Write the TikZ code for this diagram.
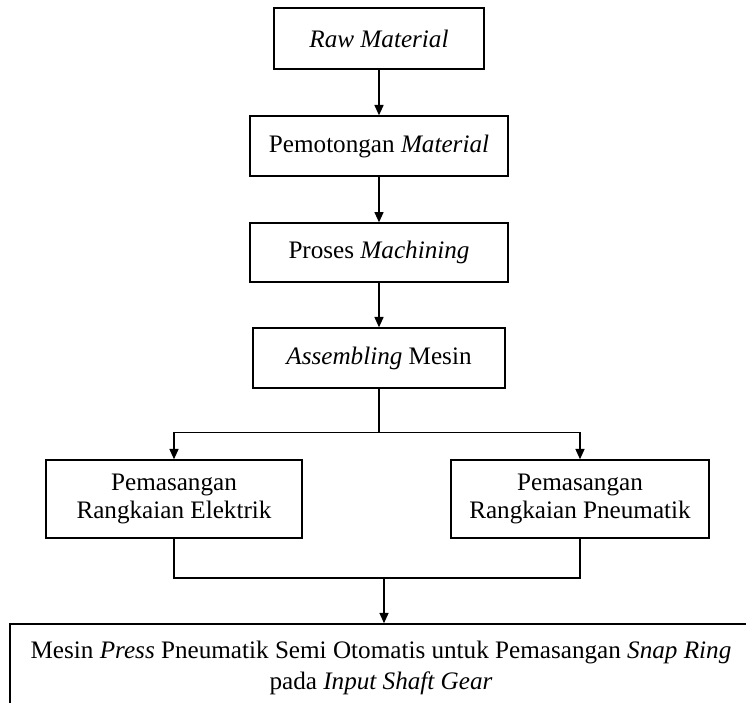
\documentclass[tikz,border=0pt]{standalone}
\usepackage{fontspec}
\setmainfont{Liberation Serif}
\usetikzlibrary{positioning}
\usetikzlibrary{calc}
\usetikzlibrary{arrows.meta}

\begin{document}
\begin{tikzpicture}[x=0.465pt, y=-0.465pt, line width=0.65pt,
        kotak/.style={draw, align=center, inner sep=0pt,
            font=\fontsize{11.7}{12.6}\selectfont},
        panah/.style={-{Triangle[length=4.8pt,width=4.2pt]}}]
        % Batas gambar
        \useasboundingbox (0,0) rectangle (746,702);
        \clip (0,0) rectangle (746,702);

        % Kotak proses utama
        \node[kotak, minimum width=97.7pt, minimum height=28.4pt] (raw) at (379,38.5) {\textit{Raw Material}};
        \node[kotak, minimum width=120pt, minimum height=27.9pt] (potong) at (379,146) {Pemotongan \textit{Material}};
        \node[kotak, minimum width=120pt, minimum height=27.4pt] (machining) at (379,252.5) {Proses \textit{Machining}};
        \node[kotak, minimum width=117.2pt, minimum height=27.9pt] (rakit) at (379,358) {\textit{Assembling} Mesin};

        % Dua cabang pemasangan
        \node[kotak, minimum width=119pt, minimum height=36.3pt] (elektrik) at (174,499) {Pemasangan\\Rangkaian Elektrik};
        \node[kotak, minimum width=120pt, minimum height=36.3pt] (pneumatik) at (580,499) {Pemasangan\\Rangkaian Pneumatik};

        % Hasil akhir
        \node[kotak, minimum width=345pt, minimum height=41pt, font=\fontsize{11.7}{14.4}\selectfont] (hasil) at (381,668)
            {Mesin \textit{Press} Pneumatik Semi Otomatis untuk Pemasangan \textit{Snap Ring}\\pada \textit{Input Shaft Gear}};

        % Panah
        \draw[panah] (raw) -- (potong);
        \draw[panah] (potong) -- (machining);
        \draw[panah] (machining) -- (rakit);
        \draw (rakit.south) -- ++(0,44) coordinate (cabang);
        \draw[panah] (cabang) -| (elektrik);
        \draw[panah] (cabang) -| (pneumatik);
        \coordinate (gabung) at (384,578);
        \draw (elektrik.south) |- (gabung) -| (pneumatik.south);
        \draw[panah] (gabung) -- (gabung |- hasil.north);
    \end{tikzpicture}
\end{document}
